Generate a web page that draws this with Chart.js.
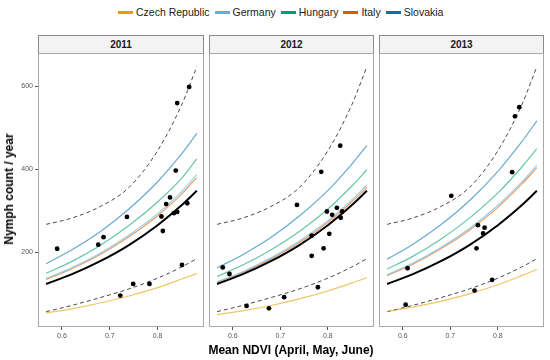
<!DOCTYPE html>
<html><head><meta charset="utf-8">
<script src="https://cdn.jsdelivr.net/npm/chart.js@4.4.1/dist/chart.umd.min.js"></script>
<style>
html,body{margin:0;padding:0;background:#fff;}
#wrap{position:relative;width:550px;height:360px;overflow:hidden;font-family:"Liberation Sans",Arial,sans-serif;background:#fff;}
canvas{position:absolute;}
.strip{position:absolute;top:35px;height:19px;box-sizing:border-box;border:1px solid #8a8a8a;background:#f3f3f3;font-weight:bold;font-size:10px;color:#1a1a1a;text-align:center;line-height:17px;}
#legend{position:absolute;left:118px;top:5px;height:14px;display:flex;align-items:center;font-size:10.5px;color:#1a1a1a;white-space:nowrap;}
.key{display:inline-block;width:15px;height:3px;margin-right:3px;}
.item{display:flex;align-items:center;margin-right:5px;}
#ytitle{position:absolute;left:9px;top:189px;transform:translate(-50%,-50%) rotate(-90deg);font-weight:bold;font-size:12px;white-space:nowrap;color:#000;}
#xtitle{position:absolute;left:291px;top:350px;transform:translate(-50%,-50%);font-weight:bold;font-size:12px;white-space:nowrap;color:#000;}
</style>
</head>
<body>
<div id="wrap">
  <div id="legend"></div>
  <div class="strip" style="left:38px;width:166px;" id="s0"></div>
  <div class="strip" style="left:209px;width:165px;" id="s1"></div>
  <div class="strip" style="left:379px;width:165px;" id="s2"></div>
  <canvas id="c0" width="204" height="307" style="left:0px;top:53px;"></canvas>
  <canvas id="c1" width="165" height="307" style="left:209px;top:53px;"></canvas>
  <canvas id="c2" width="165" height="307" style="left:379px;top:53px;"></canvas>
  <div id="ytitle">Nymph count / year</div>
  <div id="xtitle">Mean NDVI (April, May, June)</div>
</div>
<script>
// ---------- data ----------
const years = ['2011', '2012', '2013'];
const countries = ['Czech Republic', 'Germany', 'Hungary', 'Italy', 'Slovakia'];
const countryColors = ['#E69F00', '#56B4E9', '#009E73', '#D55E00', '#0072B2'];
const xTicks = [0.6, 0.7, 0.8];
const xTickLabels = ['0.6', '0.7', '0.8'];
const yTicks = [200, 400, 600];
const yTickLabels = ['200', '400', '600'];

const curveX = [0.567, 0.62, 0.68, 0.74, 0.80, 0.85, 0.882];
const meanFit = [123, 146, 178, 217, 265, 313, 348];
const upperPI = [267, 282, 310, 356, 445, 555, 648];
const lowerPI = [56, 71, 90, 111, 137, 164, 184];

const czech2011 = [53, 63, 77, 94, 114, 135, 148];
const germany2011 = [136, 162, 197, 241, 293, 346, 387];
const hungary2011 = [149, 177, 216, 264, 321, 378, 425];
const italy2011 = [134, 159, 194, 237, 288, 340, 380];
const slovakia2011 = [172, 205, 249, 304, 370, 437, 487];

const czech2012 = [49, 58, 71, 87, 106, 125, 138];
const germany2012 = [128, 152, 186, 227, 276, 326, 362];
const hungary2012 = [141, 168, 205, 250, 304, 359, 399];
const italy2012 = [126, 150, 183, 223, 272, 321, 356];
const slovakia2012 = [162, 193, 235, 287, 349, 412, 457];

const czech2013 = [56, 67, 81, 99, 121, 143, 158];
const germany2013 = [145, 173, 211, 257, 313, 369, 410];
const hungary2013 = [159, 189, 231, 282, 343, 405, 450];
const italy2013 = [143, 170, 208, 253, 308, 364, 404];
const slovakia2013 = [183, 218, 266, 324, 395, 466, 517];

const ndvi2011 = [0.590, 0.676, 0.687, 0.736, 0.722, 0.749, 0.783, 0.808, 0.811, 0.818, 0.826, 0.834, 0.841, 0.838, 0.841, 0.866, 0.862, 0.851];
const nymph2011 = [208, 218, 236, 285, 95, 123, 123, 286, 251, 316, 332, 294, 297, 397, 560, 599, 318, 169];
const ndvi2012 = [0.579, 0.593, 0.629, 0.676, 0.708, 0.735, 0.766, 0.766, 0.779, 0.786, 0.791, 0.798, 0.803, 0.809, 0.819, 0.826, 0.827, 0.830];
const nymph2012 = [163, 147, 70, 64, 91, 314, 240, 191, 115, 394, 209, 298, 244, 290, 307, 457, 283, 298];
const ndvi2013 = [0.606, 0.610, 0.702, 0.751, 0.755, 0.758, 0.769, 0.772, 0.788, 0.830, 0.836, 0.845];
const nymph2013 = [73, 161, 336, 107, 209, 265, 245, 259, 133, 393, 528, 550];

const fitsByYear = [
  [czech2011, germany2011, hungary2011, italy2011, slovakia2011],
  [czech2012, germany2012, hungary2012, italy2012, slovakia2012],
  [czech2013, germany2013, hungary2013, italy2013, slovakia2013]
];
const ndviByYear = [ndvi2011, ndvi2012, ndvi2013];
const nymphByYear = [nymph2011, nymph2012, nymph2013];

// ---------- html text ----------
const leg = document.getElementById('legend');
countries.forEach((c, i) => {
  const it = document.createElement('div'); it.className = 'item';
  const k = document.createElement('span'); k.className = 'key'; k.style.background = countryColors[i];
  const t = document.createElement('span'); t.textContent = c;
  it.appendChild(k); it.appendChild(t); leg.appendChild(it);
});
years.forEach((y, i) => { document.getElementById('s' + i).textContent = y; });

// ---------- charts ----------
const FONT = '"Liberation Sans", Arial, sans-serif';
const toXY = (xs, ys) => xs.map((x, i) => ({x: x, y: ys[i]}));
const hexA = (hex, a) => {
  const n = parseInt(hex.slice(1), 16);
  return `rgba(${(n >> 16) & 255},${(n >> 8) & 255},${n & 255},${a})`;
};

const frame = {
  id: 'frame',
  afterDatasetsDraw(chart) {
    const a = chart.chartArea, c = chart.ctx;
    c.save(); c.strokeStyle = '#a8a8a8'; c.lineWidth = 1;
    c.strokeRect(a.left + 0.5, a.top + 0.5, a.right - a.left - 1, a.bottom - a.top - 1);
    c.restore();
  }
};

function makePanel(idx, showY) {
  const ds = [];
  ds.push({
    label: 'obs', data: toXY(ndviByYear[idx], nymphByYear[idx]),
    pointRadius: 2.4, pointHoverRadius: 2.4, pointBackgroundColor: '#000', pointBorderWidth: 0, showLine: false, order: 0
  });
  ds.push({
    label: 'mean', data: toXY(curveX, meanFit), showLine: true, pointRadius: 0, pointHoverRadius: 0,
    borderColor: '#000', borderWidth: 2, cubicInterpolationMode: 'monotone', order: 1
  });
  fitsByYear[idx].forEach((arr, ci) => {
    ds.push({
      label: countries[ci], data: toXY(curveX, arr), showLine: true, pointRadius: 0, pointHoverRadius: 0,
      borderColor: hexA(countryColors[ci], 0.6), borderWidth: 1.2,
      cubicInterpolationMode: 'monotone', order: 2
    });
  });
  [upperPI, lowerPI].forEach((arr, k) => {
    ds.push({
      label: 'pi' + k, data: toXY(curveX, arr), showLine: true, pointRadius: 0, pointHoverRadius: 0,
      borderColor: '#4a4a4a', borderWidth: 1, borderDash: [4, 3],
      cubicInterpolationMode: 'monotone', order: 3
    });
  });
  return new Chart(document.getElementById('c' + idx), {
    type: 'scatter',
    data: {datasets: ds},
    plugins: [frame],
    options: {
      responsive: false, animation: false, devicePixelRatio: 1,
      layout: {padding: 0, autoPadding: false},
      events: [],
      plugins: {legend: {display: false}, tooltip: {enabled: false}},
      scales: {
        x: {
          type: 'linear', min: 0.55, max: 0.897,
          afterBuildTicks: s => { s.ticks = xTicks.map(v => ({value: v})); },
          ticks: {callback: (v, i) => xTickLabels[i], font: {size: 7, family: FONT}, color: '#555',
                  padding: 2, maxRotation: 0, autoSkip: false},
          grid: {drawOnChartArea: false, drawTicks: true, tickLength: 3, color: '#555'},
          border: {display: false},
          afterFit: s => { s.height = 33; s.paddingLeft = 0; s.paddingRight = 0; }
        },
        y: {
          type: 'linear', min: 19, max: 681, display: showY,
          afterBuildTicks: s => { s.ticks = yTicks.map(v => ({value: v})); },
          ticks: {callback: (v, i) => yTickLabels[i], font: {size: 7, family: FONT}, color: '#555',
                  padding: 2, autoSkip: false},
          grid: {drawOnChartArea: false, drawTicks: true, tickLength: 3, color: '#555'},
          border: {display: false},
          afterFit: s => { s.width = showY ? 38 : 0; s.paddingTop = 0; s.paddingBottom = 0; }
        }
      }
    }
  });
}
makePanel(0, true);
makePanel(1, false);
makePanel(2, false);
</script>
</body></html>
